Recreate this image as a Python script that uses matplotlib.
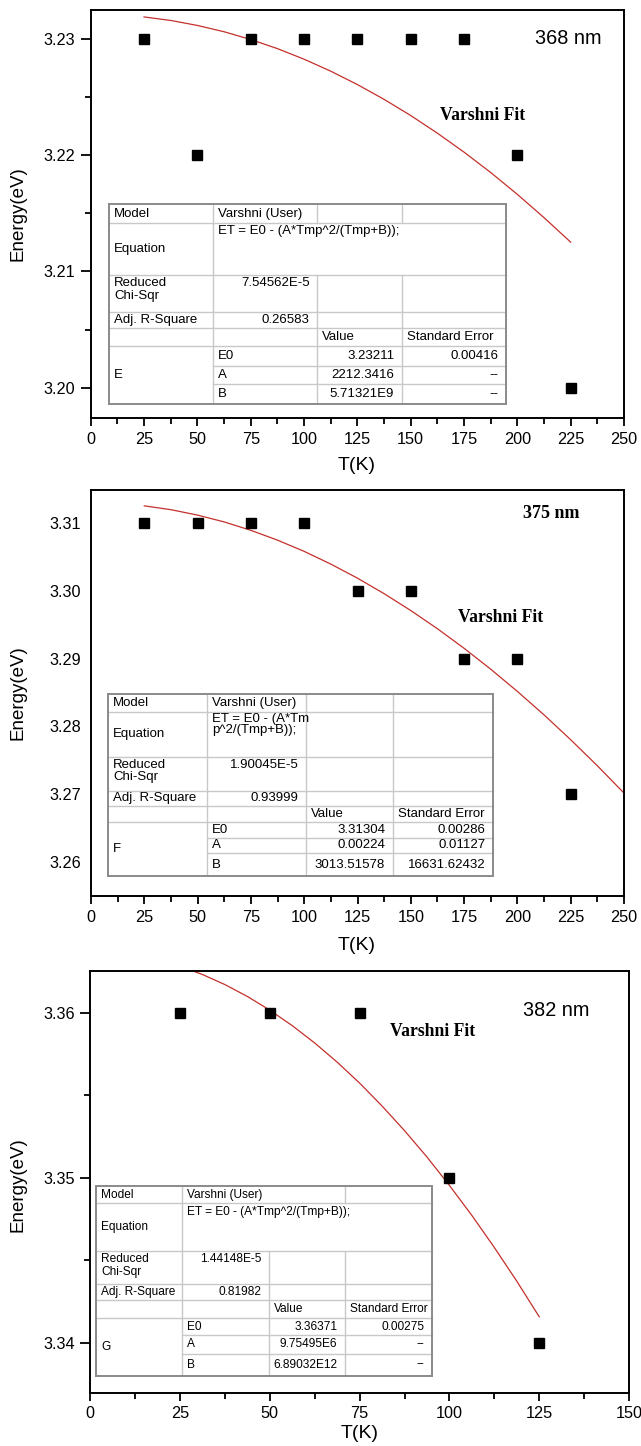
import matplotlib
matplotlib.use('Agg')
import matplotlib.pyplot as plt
from matplotlib.ticker import MultipleLocator, FormatStrFormatter
from matplotlib.patches import Rectangle

plt.rcParams['font.family'] = ['Liberation Sans', 'DejaVu Sans']

# ---------------- data ----------------
T1 = [25, 50, 75, 100, 125, 150, 175, 200, 225]
E1 = [3.23, 3.22, 3.23, 3.23, 3.23, 3.23, 3.23, 3.22, 3.20]
fitT1 = [25, 37.5, 50, 62.5, 75, 87.5, 100, 112.5, 125, 137.5, 150, 162.5, 175, 187.5, 200, 212.5, 225]
fitE1 = [3.23187, 3.23157, 3.23114, 3.23060, 3.22993, 3.22915, 3.22824, 3.22721, 3.22606,
         3.22479, 3.22340, 3.22188, 3.22025, 3.21850, 3.21662, 3.21462, 3.21251]

T2 = [25, 50, 75, 100, 125, 150, 175, 200, 225]
E2 = [3.31, 3.31, 3.31, 3.31, 3.30, 3.30, 3.29, 3.29, 3.27]
fitT2 = [25, 37.5, 50, 62.5, 75, 87.5, 100, 112.5, 125, 137.5, 150, 162.5, 175, 187.5, 200, 212.5, 225, 237.5, 250]
fitE2 = [3.31258, 3.31201, 3.31121, 3.31020, 3.30896, 3.30751, 3.30585, 3.30397, 3.30189, 3.29960,
         3.29711, 3.29442, 3.29153, 3.28844, 3.28516, 3.28169, 3.27802, 3.27418, 3.27014]

T3 = [25, 50, 75, 100, 125]
E3 = [3.36, 3.36, 3.36, 3.35, 3.34]
fitT3 = [25, 31.25, 37.5, 43.75, 50, 56.25, 62.5, 68.75, 75, 81.25, 87.5, 93.75, 100,
         106.25, 112.5, 118.75, 125]
fitE3 = [3.36283, 3.36233, 3.36172, 3.36100, 3.36017, 3.35923, 3.35818, 3.35702, 3.35575,
         3.35436, 3.35287, 3.35127, 3.34955, 3.34773, 3.34579, 3.34375, 3.34159]

wavelengths = ['368 nm', '375 nm', '382 nm']
fit_label = 'Varshni Fit'
x_label = 'T(K)'
y_label = 'Energy(eV)'

param_names = ['E0', 'A', 'B']
eq_text = 'ET = E0 - (A*Tmp^2/(Tmp+B));'
eq_text_wrapped = 'ET = E0 - (A*Tm\np^2/(Tmp+B));'

tab1_name, tab1_chi, tab1_adjr = 'E', '7.54562E-5', '0.26583'
tab1_vals = ['3.23211', '2212.3416', '5.71321E9']
tab1_errs = ['0.00416', '--', '--']

tab2_name, tab2_chi, tab2_adjr = 'F', '1.90045E-5', '0.93999'
tab2_vals = ['3.31304', '0.00224', '3013.51578']
tab2_errs = ['0.00286', '0.01127', '16631.62432']

tab3_name, tab3_chi, tab3_adjr = 'G', '1.44148E-5', '0.81982'
tab3_vals = ['3.36371', '9.75495E6', '6.89032E12']
tab3_errs = ['0.00275', '--', '--']

# ---------------- figure ----------------
W, H = 641, 1446
fig = plt.figure(figsize=(W / 100, H / 100), dpi=100)

RED = '#c4302b'
TICKFS = 11.7


def make_axes(left, top, right, bottom):
    return fig.add_axes([left / W, 1 - bottom / H, (right - left) / W, (bottom - top) / H])


def style_axes(ax, xlim, ylim, xmaj, ymaj, yticks=True):
    ax.set_xlim(*xlim)
    ax.set_ylim(*ylim)
    for s in ax.spines.values():
        s.set_linewidth(1.4)
        s.set_color('black')
    ax.xaxis.set_major_locator(MultipleLocator(xmaj))
    ax.xaxis.set_minor_locator(MultipleLocator(xmaj / 2))
    ax.yaxis.set_major_locator(MultipleLocator(ymaj))
    ax.yaxis.set_minor_locator(MultipleLocator(ymaj / 2))
    ax.yaxis.set_major_formatter(FormatStrFormatter('%.2f'))
    ax.tick_params(axis='x', which='major', direction='out', length=6, width=1.3,
                   labelsize=TICKFS, pad=4, top=False)
    ax.tick_params(axis='x', which='minor', direction='out', length=4, width=1.3, top=False)
    if yticks:
        ax.tick_params(axis='y', which='major', direction='out', length=7, width=1.3,
                       labelsize=TICKFS, pad=4, right=False)
        ax.tick_params(axis='y', which='minor', direction='out', length=4, width=1.3, right=False)
    else:
        ax.tick_params(axis='y', which='both', length=0, labelsize=TICKFS, pad=7, right=False)


ax1 = make_axes(90.7, 10, 624, 417.7)
ax2 = make_axes(91, 490, 624, 896)
ax3 = make_axes(90.3, 971, 629, 1392.5)

style_axes(ax1, (0, 250), (3.197421, 3.232467), 25, 0.01)
style_axes(ax2, (0, 250), (3.254932, 3.314920), 25, 0.01, yticks=False)
style_axes(ax3, (0, 150), (3.337, 3.362545), 25, 0.01)

for ax, T, E, fT, fE in [(ax1, T1, E1, fitT1, fitE1), (ax2, T2, E2, fitT2, fitE2),
                         (ax3, T3, E3, fitT3, fitE3)]:
    ax.plot(fT, fE, color=RED, lw=0.9, zorder=2)
    ax.plot(T, E, linestyle='none', marker='s', ms=6.6, color='black', zorder=3)

# ---------------- overlay for text & tables ----------------
ov = fig.add_axes([0, 0, 1, 1], zorder=10)
ov.set_xlim(0, W)
ov.set_ylim(H, 0)
ov.axis('off')
ov.patch.set_alpha(0)

# axis labels
for yc in [214, 693, 1185]:
    ov.text(18, yc, y_label, rotation=90, ha='center', va='center', fontsize=13.5)
for xc, yc in [(357, 466), (357, 945), (360, 1433)]:
    ov.text(xc, yc, x_label, ha='center', va='center', fontsize=14)

# annotations
ov.text(535, 39, wavelengths[0], ha='left', va='center', fontsize=14.3)
ov.text(523, 513, wavelengths[1], ha='left', va='center', fontsize=13,
        family='Liberation Serif', weight='bold')
ov.text(523, 1010, wavelengths[2], ha='left', va='center', fontsize=14.3)
for xl, yc in [(440, 115), (458.5, 617), (390, 1031)]:
    ov.text(xl, yc, fit_label, ha='left', va='center', fontsize=12.7,
            family='Liberation Serif', weight='bold')

INNER = '#c8c8c8'
OUTER = '#8a8a8a'


def draw_table(cols, rows, fs, name, chi, adjr, vals, errs, eq, skip, lsp, eq_lsp=1.1,
               eq_pad=2.0):
    x0, x4 = cols[0], cols[-1]
    y0, y8 = rows[0], rows[-1]
    ov.add_patch(Rectangle((x0, y0), x4 - x0, y8 - y0, facecolor='white', edgecolor='none',
                           zorder=1))
    # horizontal inner lines
    for i in range(1, 8):
        xs = cols[1] if i in (6, 7) else x0
        ov.plot([xs, x4], [rows[i], rows[i]], color=INNER, lw=1.0, zorder=2)
    # vertical inner lines
    for ci in (1, 2, 3):
        for r in range(8):
            if (ci, r) in skip:
                continue
            ov.plot([cols[ci], cols[ci]], [rows[r], rows[r + 1]], color=INNER, lw=1.0,
                    zorder=2, solid_capstyle='butt')
    ov.add_patch(Rectangle((x0, y0), x4 - x0, y8 - y0, facecolor='none', edgecolor=OUTER,
                           lw=1.4, zorder=3))

    def cell(txt, c, r, ha='l', va='c', r2=None, ls=1.1):
        if ha == 'l':
            x, h = cols[c] + 5, 'left'
        else:
            x, h = cols[c + 1] - 7.5, 'right'
        if va == 'c':
            y = (rows[r] + rows[(r2 if r2 is not None else r + 1)]) / 2
            v = 'center'
        else:
            y = rows[r] + 2
            v = 'top'
        ov.text(x, y, txt, ha=h, va=v, fontsize=fs, zorder=4, linespacing=ls)

    cell('Model', 0, 0)
    cell('Varshni (User)', 1, 0)
    cell('Equation', 0, 1)
    ov.text(cols[1] + 5, rows[1] + eq_pad, eq, ha='left', va='top', fontsize=fs, zorder=4,
            linespacing=eq_lsp)
    cell('Reduced\nChi-Sqr', 0, 2, va='t', ls=lsp)
    cell(chi, 1, 2, ha='r', va='t')
    cell('Adj. R-Square', 0, 3)
    cell(adjr, 1, 3, ha='r')
    cell('Value', 2, 4)
    cell('Standard Error', 3, 4)
    cell(name, 0, 5, r2=8)
    for k in range(3):
        cell(param_names[k], 1, 5 + k)
        cell(vals[k], 2, 5 + k, ha='r')
        cell(errs[k], 3, 5 + k, ha='r')


draw_table([109.3, 213.3, 317.3, 401.7, 506],
           [204.3, 223.3, 275, 312.3, 327.7, 346.3, 365.7, 384.3, 404.3],
           9.5, tab1_name, tab1_chi, tab1_adjr, tab1_vals, tab1_errs, eq_text,
           skip={(2, 1), (3, 1)}, lsp=1.12)

draw_table([108.3, 207.3, 306, 392.7, 493],
           [694.3, 711.7, 756.7, 791, 805.7, 821.7, 837.7, 853.3, 875.7],
           9.5, tab2_name, tab2_chi, tab2_adjr, tab2_vals, tab2_errs, eq_text_wrapped,
           skip=set(), lsp=1.0, eq_lsp=0.9, eq_pad=1.0)

draw_table([96, 181.7, 269, 345, 431.8],
           [1186, 1203.3, 1251, 1284.3, 1300, 1318.3, 1335, 1353.5, 1375.5],
           8.6, tab3_name, tab3_chi, tab3_adjr, tab3_vals, tab3_errs, eq_text,
           skip={(2, 0), (2, 1), (3, 1)}, lsp=1.12, eq_pad=3.0)

fig.savefig('out.png', dpi=100)
